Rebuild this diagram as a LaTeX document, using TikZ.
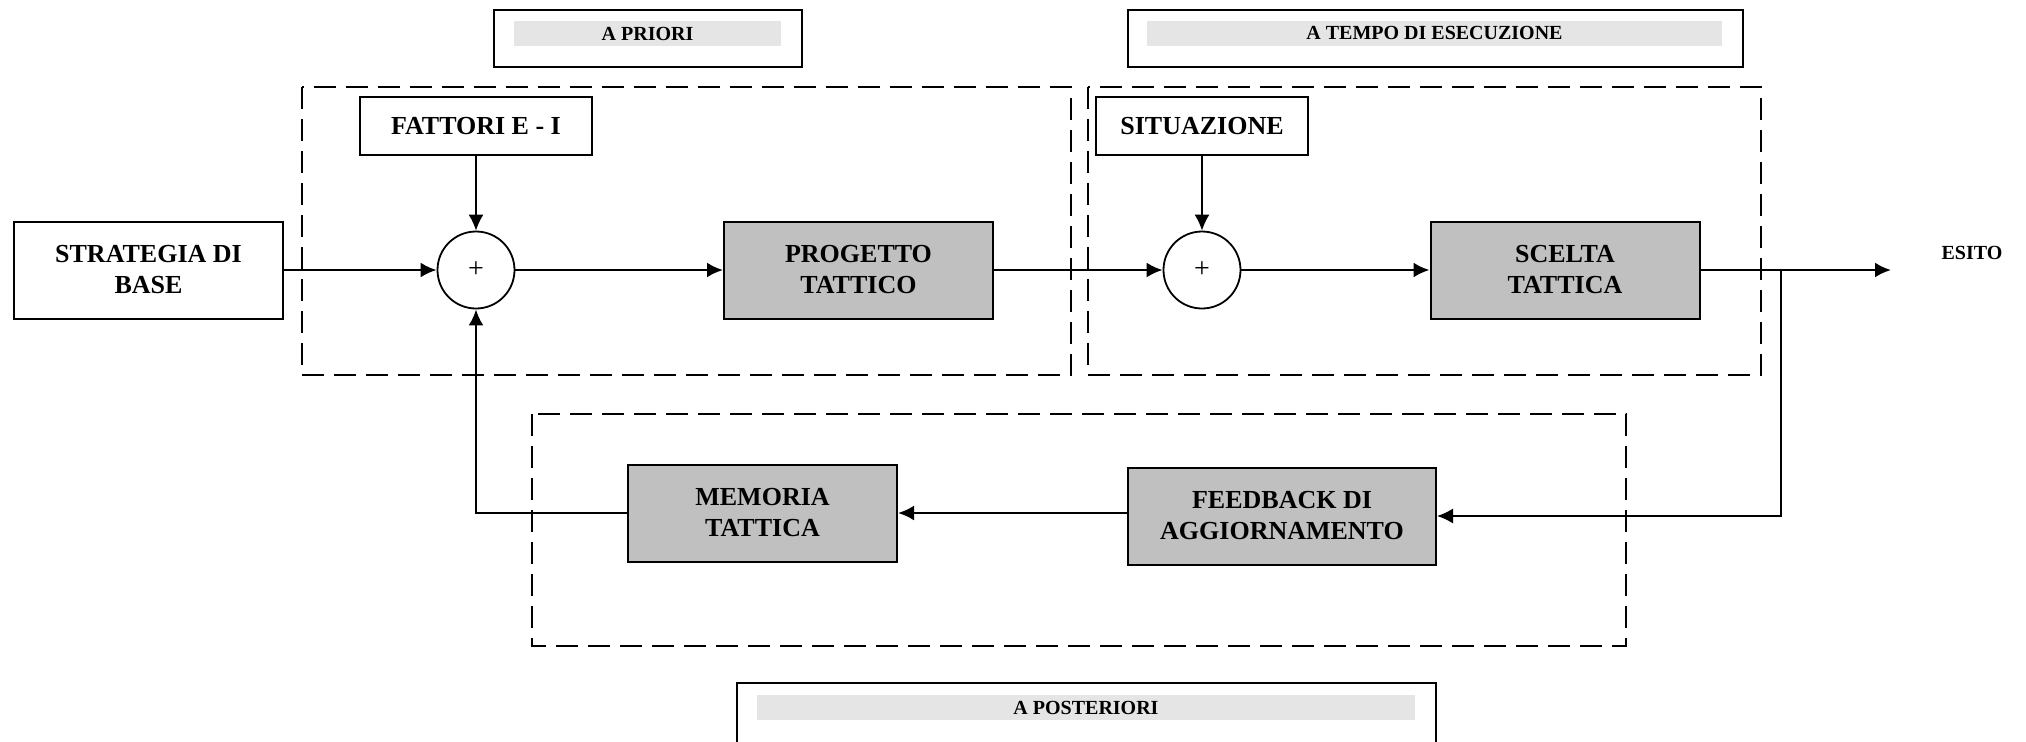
\documentclass[tikz,border=0pt]{standalone}
\usepackage{fontspec}
\setmainfont{Liberation Serif}
\usetikzlibrary{arrows.meta}

\definecolor{grigioblocco}{RGB}{192,192,192}
\definecolor{grigiobarra}{RGB}{229,229,229}

\tikzset{
  blocco/.style={draw, line width=1pt, align=center, inner sep=0pt,
    minimum width=134.5pt, minimum height=48.5pt,
    font=\fontsize{13}{15.5}\selectfont\bfseries},
  pieno/.style={blocco, fill=grigioblocco},
  somma/.style={draw, circle, line width=0.9pt, minimum size=38.5pt,
    inner sep=0pt, font=\fontsize{14}{14}\selectfont},
  freccia/.style={line width=1.2pt, -{Latex[length=8pt,width=7.5pt]}},
  filo/.style={line width=0.8pt, -{Latex[length=8pt,width=7.5pt]}},
  cornice/.style={line width=1pt, dash pattern=on 11pt off 5pt},
  fase/.style={draw, line width=1.1pt},
  barra/.style={fill=grigiobarra, inner sep=0pt, minimum height=12.5pt,
    font=\fontsize{10}{10}\selectfont\bfseries}
}

\begin{document}
\begin{tikzpicture}[x=0.5pt,y=-0.5pt]
      \useasboundingbox (0,0) rectangle (2026,741);

      %%%%%%%%%%%%%%%%%%%%%%%%%%%%%%%%%%%%%%%%%%%%%%%%%%%%%%%%%%%%%%%%%%%%%%%%%%%
      %%%%  Fasi
      \foreach \nome/\cx/\cy/\lo/\al/\bx/\by/\lb/\testo in
        {priori/648/38.5/154pt/28.5pt/647.5/33.5/133.5pt/A PRIORI,
         tempo/1435.5/38.5/307.5pt/28.5pt/1434.5/33/287.5pt/A TEMPO DI ESECUZIONE,
         posteriori/1086.5/723/349.5pt/40pt/1086/707.5/329pt/A POSTERIORI}
      {\node[fase, minimum width=\lo, minimum height=\al] (\nome) at (\cx,\cy) {};
       \node[barra, minimum width=\lb] (\nome-barra) at (\bx,\by) {\testo};
      };

      \draw[cornice] (302,87) rectangle (1071,375);
      \draw[cornice] (1088,87) rectangle (1761,375);
      \draw[cornice] (532,414) rectangle (1626,646);

      %%%%%%%%%%%%%%%%%%%%%%%%%%%%%%%%%%%%%%%%%%%%%%%%%%%%%%%%%%%%%%%%%%%%%%%%%%%
      %%%%  Blocchi
      \node[blocco] (strategia) at (148.5,270) {STRATEGIA DI\\BASE};
      \node[blocco, minimum width=116pt, minimum height=29pt] (fattori) at (476,126) {FATTORI E - I};
      \node[somma] (somma1) at (476,270) {+};
      \node[pieno] (progetto) at (858.5,270) {PROGETTO\\TATTICO};

      \node[blocco, minimum width=106pt, minimum height=29pt] (situazione) at (1202,126) {SITUAZIONE};
      \node[somma] (somma2) at (1202,270) {+};
      \node[pieno] (scelta) at (1565,270) {SCELTA\\TATTICA};

      \node[font=\fontsize{10}{10}\selectfont\bfseries] (esito) at (1972,253) {ESITO};
      \coordinate (uscita) at (1891,270);
      \coordinate (ramo) at (1781,270);

      \node[pieno] (memoria) at (762.5,513) {MEMORIA\\TATTICA};
      \node[pieno, minimum width=154pt] (feedback) at (1282,516) {FEEDBACK DI\\AGGIORNAMENTO};

      %%%%%%%%%%%%%%%%%%%%%%%%%%%%%%%%%%%%%%%%%%%%%%%%%%%%%%%%%%%%%%%%%%%%%%%%%%%
      %%%%  Collegamenti
      \draw[freccia] (strategia) -- (somma1);
      \draw[filo] (fattori) -- (somma1);
      \draw[freccia] (somma1) -- (progetto);
      \draw[freccia] (progetto) -- (somma2);
      \draw[filo] (situazione) -- (somma2);
      \draw[freccia] (somma2) -- (scelta);
      \draw[freccia] (scelta) -- (uscita);

      \draw[filo] (ramo) |- (feedback.east);
      \draw[freccia] (feedback.west |- memoria.east) -- (memoria.east);
      \draw[freccia] (memoria.west) -| (somma1.south);
    \end{tikzpicture}
\end{document}
